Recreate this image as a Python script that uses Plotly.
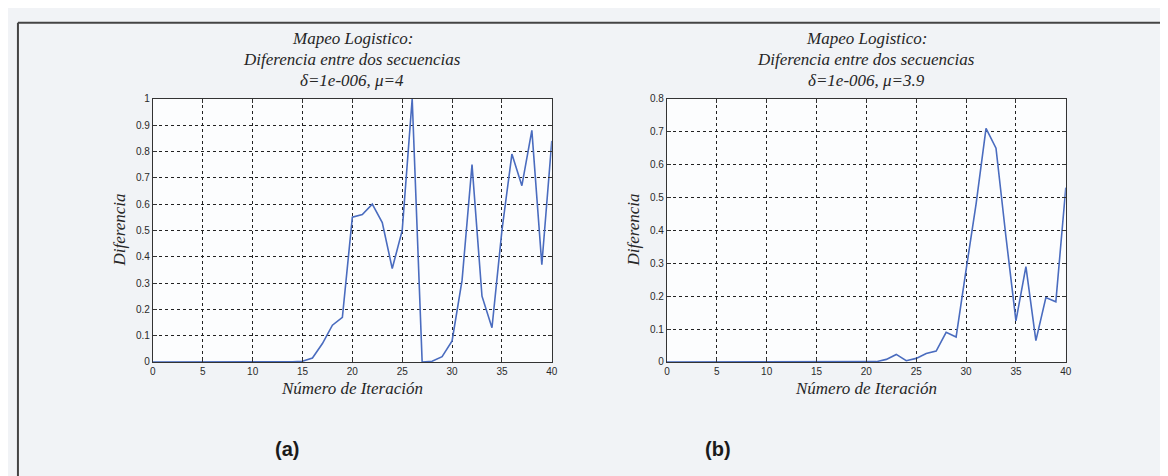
import plotly.graph_objects as go

# ---- data ----
iteraciones = list(range(0, 41))
dif_mu4 = [0, 0, 0, 0, 0, 0, 0, 0, 0, 0, 0, 0, 0, 0, 0.001, 0.003,
           0.015, 0.07, 0.14, 0.17, 0.55, 0.56, 0.60, 0.53, 0.355, 0.50,
           1.0, 0.0, 0.003, 0.02, 0.08, 0.31, 0.75, 0.25, 0.13, 0.50,
           0.79, 0.67, 0.88, 0.37, 0.84]
dif_mu39 = [0, 0, 0, 0, 0, 0, 0, 0, 0, 0, 0, 0, 0, 0, 0, 0, 0, 0, 0, 0, 0,
            0.001, 0.008, 0.023, 0.004, 0.011, 0.026, 0.033, 0.09, 0.076, 0.28,
            0.48, 0.71, 0.65, 0.38, 0.125, 0.29, 0.065, 0.196, 0.183, 0.53]
x_ticks = [0, 5, 10, 15, 20, 25, 30, 35, 40]
y_ticks_a = [0, 0.1, 0.2, 0.3, 0.4, 0.5, 0.6, 0.7, 0.8, 0.9, 1]
y_labels_a = ["0", "0.1", "0.2", "0.3", "0.4", "0.5", "0.6", "0.7", "0.8", "0.9", "1"]
y_ticks_b = [0, 0.1, 0.2, 0.3, 0.4, 0.5, 0.6, 0.7, 0.8]
y_labels_b = ["0", "0.1", "0.2", "0.3", "0.4", "0.5", "0.6", "0.7", "0.8"]
titles_a = ["Mapeo Logistico:", "Diferencia entre dos secuencias", "δ=1e-006, μ=4"]
titles_b = ["Mapeo Logistico:", "Diferencia entre dos secuencias", "δ=1e-006, μ=3.9"]
xlabel = "Número de Iteración"
ylabel = "Diferencia"
panel_labels = ["(a)", "(b)"]

W, H = 1168, 476
LINE = "#4a6cbf"
INK = "#333333"

fig = go.Figure()
fig.add_trace(go.Scatter(x=iteraciones, y=dif_mu4, mode="lines",
                         line=dict(color=LINE, width=1.6), xaxis="x", yaxis="y",
                         showlegend=False, hoverinfo="skip"))
fig.add_trace(go.Scatter(x=iteraciones, y=dif_mu39, mode="lines",
                         line=dict(color=LINE, width=1.6), xaxis="x2", yaxis="y2",
                         showlegend=False, hoverinfo="skip"))

def px_x(p):
    return p / W

def px_y(p):
    return 1 - p / H

tickfont = dict(family="Liberation Sans, Arial, sans-serif", size=10, color="#2a2a2a")
common_x = dict(range=[0, 40], tickvals=x_ticks, ticks="inside", ticklen=4,
                tickcolor=INK, showline=True, linecolor=INK, linewidth=1.2,
                mirror="ticks", showgrid=True, gridcolor="#222", griddash="dot",
                gridwidth=1, zeroline=False, tickfont=tickfont)
common_y = dict(ticks="inside", ticklen=4, tickcolor=INK, showline=True,
                linecolor=INK, linewidth=1.2, mirror="ticks", showgrid=True,
                gridcolor="#222", griddash="dot", gridwidth=1, zeroline=False,
                tickfont=tickfont)

yd = [px_y(357), px_y(87)]
fig.update_layout(
    width=W, height=H,
    margin=dict(l=0, r=0, t=0, b=0),
    paper_bgcolor="#f1f3f6",
    plot_bgcolor="#fcfdfe",
    xaxis=dict(common_x, domain=[px_x(143), px_x(545)], anchor="y"),
    yaxis=dict(common_y, domain=yd, range=[0, 1], tickvals=y_ticks_a,
               ticktext=y_labels_a, anchor="x"),
    xaxis2=dict(common_x, domain=[px_x(661), px_x(1063)], anchor="y2"),
    yaxis2=dict(common_y, domain=yd, range=[0, 0.8], tickvals=y_ticks_b,
                ticktext=y_labels_b, anchor="x2"),
)

serif_it = "Liberation Serif, Times New Roman, serif"
ann = []
for cx, titles in [((143 + 545) / 2, titles_a), ((661 + 1063) / 2, titles_b)]:
    for i, t in enumerate(titles):
        ann.append(dict(x=px_x(cx), y=px_y(25 + 21.5 * i), xref="paper", yref="paper",
                        text=f"<i>{t}</i>", showarrow=False, xanchor="center",
                        yanchor="middle", font=dict(family=serif_it, size=17, color="#262626")))
    ann.append(dict(x=px_x(cx), y=px_y(384), xref="paper", yref="paper",
                    text=f"<i>{xlabel}</i>", showarrow=False, xanchor="center",
                    yanchor="middle", font=dict(family=serif_it, size=17, color="#262626")))
for axl in [143, 661]:
    ann.append(dict(x=px_x(axl - 34), y=px_y(222), xref="paper", yref="paper",
                    text=f"<i>{ylabel}</i>", showarrow=False, textangle=-90,
                    xanchor="center", yanchor="middle",
                    font=dict(family=serif_it, size=17, color="#262626")))
for cx, lab in zip([278, 712], panel_labels):
    ann.append(dict(x=px_x(cx), y=px_y(446), xref="paper", yref="paper",
                    text=f"<b>{lab}</b>", showarrow=False, xanchor="center",
                    yanchor="middle",
                    font=dict(family="Liberation Sans Narrow, Arial Narrow, Liberation Sans, sans-serif",
                              size=20, color="#1a1a1a")))
fig.update_layout(annotations=ann)

fig.update_layout(shapes=[
    dict(type="line", xref="paper", yref="paper", x0=px_x(7), x1=1, y0=px_y(9), y1=px_y(9),
         line=dict(color="#444", width=2)),
    dict(type="line", xref="paper", yref="paper", x0=px_x(7), x1=px_x(7), y0=0, y1=px_y(9),
         line=dict(color="#444", width=2)),
])

fig.write_html("out.html")
